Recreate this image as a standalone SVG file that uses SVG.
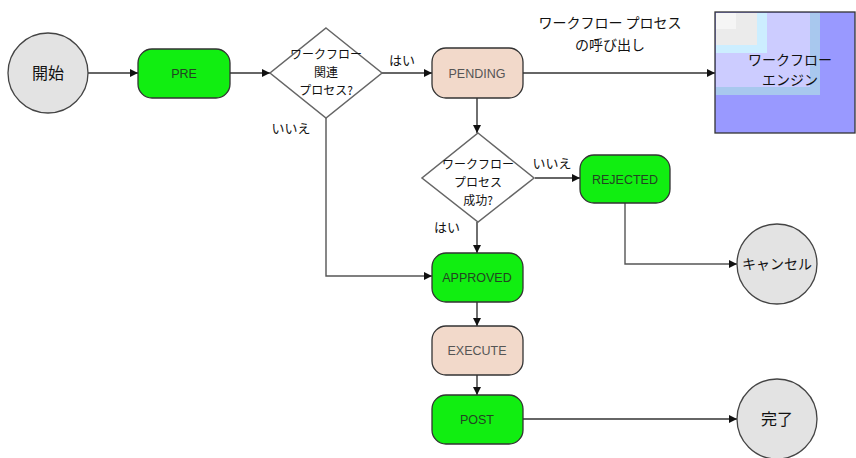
<svg xmlns="http://www.w3.org/2000/svg" width="856" height="458" viewBox="0 0 856 458">
<defs>
<marker id="arr" viewBox="0 0 10 10" refX="10" refY="5" markerWidth="8" markerHeight="8" markerUnits="userSpaceOnUse" orient="auto">
<path d="M0,0 L10,5 L0,10 z" fill="#111"/>
</marker>
<style>
.term{fill:#e3e3e3;stroke:#444;stroke-width:1.3}
.green{fill:#11ee11;stroke:#333;stroke-width:1.3}
.peach{fill:#f2d9ca;stroke:#333;stroke-width:1.3}
.dia{fill:#fff;stroke:#666;stroke-width:1.5}
.box{font-family:"Liberation Sans",Arial,sans-serif;font-size:12.5px;text-anchor:middle}
.jp{font-family:"Noto Sans CJK JP","Noto Sans",sans-serif;text-anchor:middle;fill:#111}
.c{stroke:#333;stroke-width:1.4;fill:none;marker-end:url(#arr)}
.cg{stroke:#555;stroke-width:1.4;fill:none;marker-end:url(#arr)}
</style>
</defs>
<rect width="856" height="458" fill="#fff"/>
<g id="connectors">
<line class="c" x1="88" y1="73" x2="138" y2="73"/>
<line class="c" x1="230" y1="73" x2="270" y2="73"/>
<line class="c" x1="382" y1="73" x2="432" y2="73"/>
<line class="c" x1="523" y1="73" x2="715" y2="73"/>
<line class="c" x1="477" y1="98" x2="477" y2="133"/>
<line class="c" x1="535" y1="178" x2="580" y2="178"/>
<line class="c" x1="477" y1="222" x2="477" y2="253"/>
<polyline class="cg" points="326,118 326,276 432,276"/>
<polyline class="cg" points="625,203 625,264 737,264"/>
<line class="c" x1="477" y1="302" x2="477" y2="326"/>
<line class="c" x1="477" y1="375" x2="477" y2="395"/>
<line class="c" x1="523" y1="419" x2="737" y2="419"/>
<text class="jp" x="291" y="133" font-size="13">いいえ</text>
<text class="jp" x="402" y="65" font-size="13">はい</text>
<text class="jp" x="552" y="168" font-size="13">いいえ</text>
<text class="jp" x="447" y="232" font-size="13">はい</text>
<text class="jp" x="610" y="28" font-size="14">ワークフロー プロセス</text>
<text class="jp" x="610" y="50" font-size="14">の呼び出し</text>
</g>
<g id="start">
<circle class="term" cx="48" cy="73" r="40"/>
<text class="jp" x="48" y="79" font-size="16">開始</text>
</g>
<g id="pre">
<rect class="green" x="138" y="49" width="92" height="49" rx="14"/>
<text class="box" x="184" y="78" fill="#224422">PRE</text>
</g>
<g id="decision1">
<polygon class="dia" points="326,28 382,73 326,118 270,73"/>
<text class="jp" x="326" y="59" font-size="12">ワークフロー</text>
<text class="jp" x="326" y="77" font-size="12">関連</text>
<text class="jp" x="326" y="95" font-size="12">プロセス?</text>
</g>
<g id="pending">
<rect class="peach" x="432" y="48" width="91" height="50" rx="14"/>
<text class="box" x="477" y="78" fill="#555">PENDING</text>
</g>
<g id="engine">
<rect x="715" y="12" width="140" height="121" fill="#9999ff" stroke="#333" stroke-width="1.3"/>
<rect x="716" y="13" width="104" height="82" fill="#a8c8ee"/>
<rect x="716" y="13" width="94" height="74" fill="#ccccff"/>
<rect x="716" y="13" width="51" height="40" fill="#cceeff"/>
<rect x="716" y="13" width="41" height="32" fill="#ebebeb"/>
<rect x="716" y="13" width="20" height="16" fill="#f5f5f5"/>
<text class="jp" x="790" y="65" font-size="14">ワークフロー</text>
<text class="jp" x="790" y="85" font-size="14">エンジン</text>
</g>
<g id="decision2">
<polygon class="dia" points="478,133 534,178 478,222 422,178"/>
<text class="jp" x="478" y="169" font-size="12">ワークフロー</text>
<text class="jp" x="478" y="187" font-size="12">プロセス</text>
<text class="jp" x="478" y="205" font-size="12">成功?</text>
</g>
<g id="rejected">
<rect class="green" x="580" y="155" width="90" height="48" rx="14"/>
<text class="box" x="625" y="184" fill="#224422">REJECTED</text>
</g>
<g id="cancel">
<circle class="term" cx="777" cy="264" r="40"/>
<text class="jp" x="777" y="269" font-size="14">キャンセル</text>
</g>
<g id="approved">
<rect class="green" x="432" y="253" width="91" height="49" rx="14"/>
<text class="box" x="477" y="282" fill="#224422">APPROVED</text>
</g>
<g id="execute">
<rect class="peach" x="432" y="326" width="91" height="49" rx="14"/>
<text class="box" x="477" y="355" fill="#555">EXECUTE</text>
</g>
<g id="post">
<rect class="green" x="432" y="395" width="91" height="49" rx="14"/>
<text class="box" x="477" y="424" fill="#224422">POST</text>
</g>
<g id="done">
<circle class="term" cx="777" cy="419" r="40"/>
<text class="jp" x="777" y="425" font-size="16">完了</text>
</g>
</svg>
